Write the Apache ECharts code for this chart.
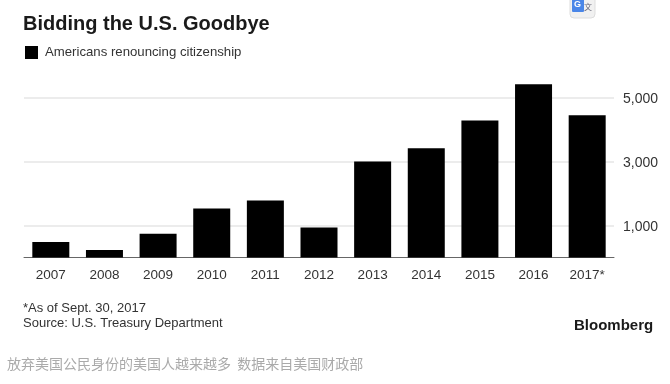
<!DOCTYPE html>
<html>
<head>
<meta charset="utf-8">
<style>
  html, body { margin: 0; padding: 0; background: #fff; }
  #chart { width: 670px; height: 384px; }
</style>
<script src="https://cdn.jsdelivr.net/npm/echarts@6/dist/echarts.min.js"></script>
</head>
<body>
<div id="chart"></div>
<script>
const years = ["2007", "2008", "2009", "2010", "2011", "2012", "2013", "2014", "2015", "2016", "2017*"];
const renounced = [487, 231, 742, 1534, 1781, 937, 2999, 3415, 4279, 5411, 4449];
const tickValues = [1000, 3000, 5000];

const font = "'Liberation Sans', Arial, sans-serif";
const chart = echarts.init(document.getElementById("chart"));

chart.setOption({
  animation: false,
  backgroundColor: "#fff",
  title: {
    text: "Bidding the U.S. Goodbye",
    left: 18,
    top: 9,
    textStyle: { fontFamily: font, fontSize: 20, fontWeight: "bold", color: "#1a1a1a" },
  },
  legend: {
    left: 25,
    top: 46,
    padding: 0,
    itemWidth: 13,
    itemHeight: 13,
    textStyle: { fontFamily: font, fontSize: 13.2, color: "#333", padding: [0, 0, 0, 2] },
    data: [{ name: "Americans renouncing citizenship", icon: "rect" }],
  },
  grid: { left: 24, right: 56, top: 81.5, bottom: 126.5 },
  xAxis: {
    type: "category",
    data: years,
    axisLine: { lineStyle: { color: "#666", width: 1 } },
    axisTick: { alignWithLabel: true, length: 5, lineStyle: { color: "#666" } },
    axisLabel: { fontFamily: font, fontSize: 13.5, color: "#333", margin: 11 },
  },
  yAxis: {
    type: "value",
    position: "right",
    min: 0,
    max: 5500,
    interval: 1000,
    axisLine: { show: false },
    // long inward ticks act as the gridlines, only at the labelled values
    axisTick: {
      show: true,
      customValues: tickValues,
      inside: true,
      length: 590,
      lineStyle: { color: "#e6e6e6", width: 1.5 },
    },
    axisLabel: {
      customValues: tickValues,
      margin: 9,
      formatter: (v) => "{n|" + v.toLocaleString("en-US") + "}",
      rich: {
        n: { fontFamily: font, fontSize: 14, color: "#333", padding: [4, 0, 0, 0] },
      },
    },
    splitLine: { show: false },
  },
  series: [
    {
      name: "Americans renouncing citizenship",
      type: "bar",
      data: renounced,
      barWidth: 37,
      itemStyle: { color: "#000" },
    },
  ],
  graphic: [
    { type: "text", left: 23, top: 302, style: { text: "*As of Sept. 30, 2017", font: "13px " + font, fill: "#333" } },
    { type: "text", left: 23, top: 317, style: { text: "Source: U.S. Treasury Department", font: "13px " + font, fill: "#333" } },
    { type: "text", left: 574, top: 318, style: { text: "Bloomberg", font: "bold 15px " + font, fill: "#1a1a1a" } },
    { type: "text", left: 7, top: 357, style: { text: "放弃美国公民身份的美国人越来越多  数据来自美国财政部", font: "14px 'Noto Sans CJK SC'", fill: "#aaa" } },
    // translate button cut off by the top edge
    { type: "rect", shape: { x: 570, y: -6, width: 25, height: 24, r: 4 }, style: { fill: "#f1f1f1", stroke: "#ddd" } },
    { type: "rect", shape: { x: 572, y: -4, width: 12, height: 16, r: 1 }, style: { fill: "#4a86e8" } },
    { type: "text", left: 574, top: 0, style: { text: "G", font: "bold 9px " + font, fill: "#fff" } },
    { type: "text", left: 584, top: 3, style: { text: "文", font: "8px 'Noto Sans CJK SC'", fill: "#667" } },
  ],
});
</script>
</body>
</html>
